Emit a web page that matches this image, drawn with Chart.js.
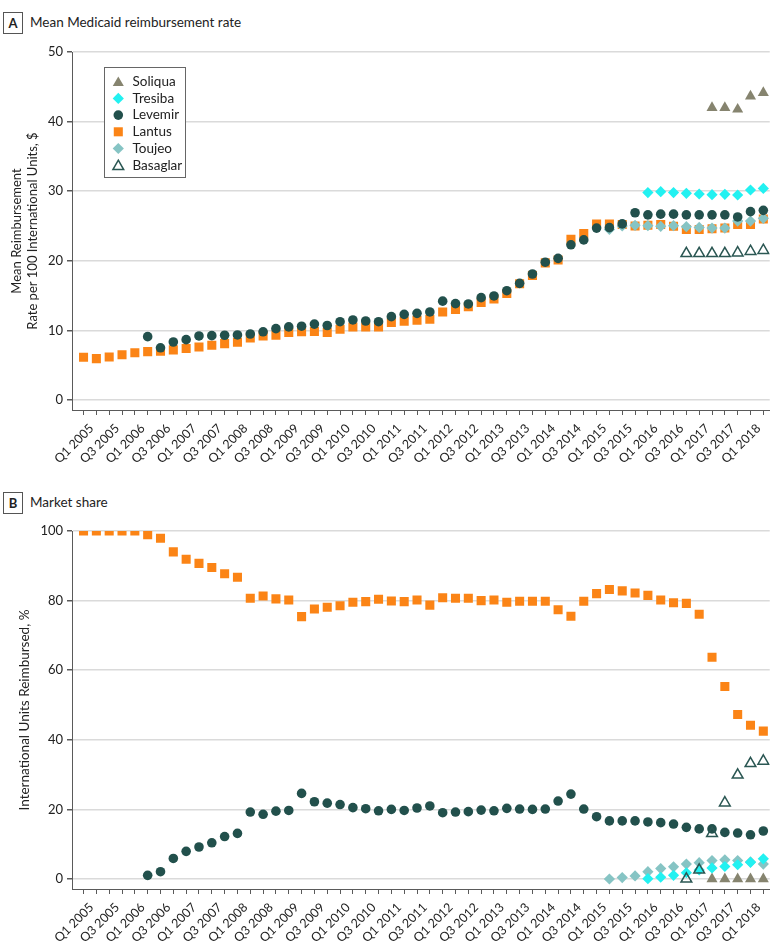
<!DOCTYPE html>
<html>
<head>
<meta charset="utf-8">
<script src="https://cdn.jsdelivr.net/npm/chart.js@4.4.1/dist/chart.umd.min.js"></script>
<style>
  html, body { margin: 0; padding: 0; background: #fff; }
  body { width: 780px; height: 951px; position: relative; overflow: hidden; font-family: Lato, "Open Sans", sans-serif; color: #222; }
  canvas { position: absolute; left: 0; }
  .plabel { position: absolute; left: 3px; width: 18px; height: 20px; border: 1px solid #555; box-sizing: content-box;
            font: bold 13px Lato, sans-serif; text-align: center; line-height: 20px; color: #222; background: #fff; }
  .ptitle { position: absolute; left: 30px; font: 13.5px Lato, sans-serif; color: #222; line-height: 22px; }
</style>
</head>
<body>
<div class="plabel" style="top:12px;">A</div>
<div class="ptitle" style="top:11px;">Mean Medicaid reimbursement rate</div>
<div class="plabel" style="top:492px;">B</div>
<div class="ptitle" style="top:491px;">Market share</div>
<canvas id="chartA" width="780" height="472" style="top:0px;"></canvas>
<canvas id="chartB" width="780" height="481" style="top:470px;"></canvas>
<script>
// ---------- categories ----------
const quarters = [
  "Q1 2005","Q2 2005","Q3 2005","Q4 2005",
  "Q1 2006","Q2 2006","Q3 2006","Q4 2006",
  "Q1 2007","Q2 2007","Q3 2007","Q4 2007",
  "Q1 2008","Q2 2008","Q3 2008","Q4 2008",
  "Q1 2009","Q2 2009","Q3 2009","Q4 2009",
  "Q1 2010","Q2 2010","Q3 2010","Q4 2010",
  "Q1 2011","Q2 2011","Q3 2011","Q4 2011",
  "Q1 2012","Q2 2012","Q3 2012","Q4 2012",
  "Q1 2013","Q2 2013","Q3 2013","Q4 2013",
  "Q1 2014","Q2 2014","Q3 2014","Q4 2014",
  "Q1 2015","Q2 2015","Q3 2015","Q4 2015",
  "Q1 2016","Q2 2016","Q3 2016","Q4 2016",
  "Q1 2017","Q2 2017","Q3 2017","Q4 2017",
  "Q1 2018","Q2 2018"
];
// x-axis tick labels shown (every other quarter)
const xTickLabels = [
  "Q1 2005","Q3 2005","Q1 2006","Q3 2006","Q1 2007","Q3 2007","Q1 2008","Q3 2008",
  "Q1 2009","Q3 2009","Q1 2010","Q3 2010","Q1 2011","Q3 2011","Q1 2012","Q3 2012",
  "Q1 2013","Q3 2013","Q1 2014","Q3 2014","Q1 2015","Q3 2015","Q1 2016","Q3 2016",
  "Q1 2017","Q3 2017","Q1 2018"
];
const rateTicks  = [0, 10, 20, 30, 40, 50];
const shareTicks = [0, 20, 40, 60, 80, 100];

const seriesNames = ["Soliqua", "Tresiba", "Levemir", "Lantus", "Toujeo", "Basaglar"];

// ---------- Panel A: mean reimbursement rate ($ per 100 IU) ----------
const rateLantus = [
  6.13, 5.94, 6.18, 6.5, 6.8, 6.95, 7.0, 7.2, 7.4, 7.6, 7.85, 8.1, 8.3, 8.9,
  9.2, 9.3, 9.7, 9.8, 9.85, 9.7, 10.15, 10.5, 10.5, 10.5, 11.15, 11.3, 11.45, 11.6,
  12.65, 13.0, 13.4, 14.0, 14.5, 15.3, 16.7, 17.9, 19.7, 20.1, 23.1, 23.9, 25.3, 25.3,
  25.2, 25.0, 25.1, 25.2, 24.95, 24.5, 24.5, 24.6, 24.7, 25.2, 25.2, 26.0
];
const rateLevemir = [
  null, null, null, null, null, 9.1, 7.5, 8.33, 8.67, 9.2, 9.24, 9.3, 9.34, 9.48,
  9.8, 10.25, 10.5, 10.6, 10.9, 10.7, 11.25, 11.5, 11.35, 11.25, 11.97, 12.3, 12.45, 12.65,
  14.2, 13.85, 13.8, 14.7, 14.95, 15.7, 16.76, 18.1, 19.8, 20.35, 22.3, 23.0, 24.7, 24.76,
  25.3, 26.9, 26.6, 26.7, 26.7, 26.6, 26.6, 26.6, 26.6, 26.3, 27.06, 27.25
];
const rateTresiba  = Array(44).fill(null).concat([29.8, 29.93, 29.8, 29.7, 29.6, 29.5, 29.55, 29.45, 30.17, 30.4]);
const rateToujeo   = Array(41).fill(null).concat([24.5, 25.0, 25.1, 25.05, 24.95, 25.05, 24.9, 24.8, 24.7, 24.7, 25.7, 25.7, 26.1]);
const rateBasaglar = Array(47).fill(null).concat([21.05, 21.05, 21.05, 21.05, 21.15, 21.35, 21.5]);
const rateSoliqua  = Array(49).fill(null).concat([42.0, 42.0, 41.75, 43.65, 44.15]);

// ---------- Panel B: market share (% of IU reimbursed) ----------
const shareLantus = [
  100, 100, 100, 100, 100, 98.9, 97.9, 94.0, 91.9, 90.7, 89.5, 87.7, 86.7, 80.65,
  81.3, 80.5, 80.2, 75.4, 77.6, 78.1, 78.5, 79.5, 79.7, 80.4, 79.9, 79.7, 80.2, 78.7,
  80.8, 80.65, 80.65, 80.0, 80.2, 79.5, 79.8, 79.8, 79.8, 77.4, 75.5, 79.8, 82.0, 83.2,
  82.8, 82.2, 81.5, 80.2, 79.4, 79.2, 76.05, 63.7, 55.3, 47.3, 44.2, 42.5
];
const shareLevemir = [
  null, null, null, null, null, 1.05, 2.1, 5.9, 7.95, 9.2, 10.4, 12.2, 13.1, 19.25,
  18.6, 19.5, 19.7, 24.6, 22.2, 21.8, 21.4, 20.5, 20.2, 19.6, 20.0, 19.7, 20.4, 21.0,
  19.06, 19.25, 19.35, 19.8, 19.6, 20.3, 20.1, 20.0, 20.1, 22.4, 24.4, 20.1, 17.9, 16.7,
  16.7, 16.7, 16.4, 16.2, 15.8, 14.85, 14.4, 14.4, 13.4, 13.2, 12.7, 13.8
];
const shareToujeo   = Array(41).fill(null).concat([0, 0.4, 0.9, 2.1, 3.0, 3.5, 4.3, 4.7, 5.3, 5.5, 5.3, 4.9, 4.3]);
const shareTresiba  = Array(44).fill(null).concat([0.1, 0.5, 1.05, 1.8, 2.6, 3.2, 3.6, 4.1, 4.8, 5.8]);
const shareBasaglar = Array(47).fill(null).concat([0, 2.6, 13.1, 21.9, 29.9, 33.2, 33.9]);
const shareSoliqua  = Array(49).fill(null).concat([0, 0, 0, 0, 0]);

// ---------- styling ----------
const styles = {
  Soliqua:  { pointStyle: 'triangle', radius: 6.4, bg: '#86846f', border: '#86846f', bw: 0, order: 5 },
  Tresiba:  { pointStyle: 'rectRot',  radius: 5.6, bg: '#22f1f1', border: '#22f1f1', bw: 0, order: 2 },
  Levemir:  { pointStyle: 'circle',   radius: 4.8, bg: '#22504c', border: '#22504c', bw: 0, order: 1 },
  Lantus:   { pointStyle: 'rect',     radius: 6.4, bg: '#fb8416', border: '#fb8416', bw: 0, order: 4 },
  Toujeo:   { pointStyle: 'rectRot',  radius: 5.6, bg: '#86c4c4', border: '#86c4c4', bw: 0, order: 3 },
  Basaglar: { pointStyle: 'triangle', radius: 6.2, bg: 'rgba(255,255,255,0)', border: '#2b5753', bw: 1.5, order: 0 }
};

function toPoints(arr) {
  const out = [];
  arr.forEach((v, i) => { if (v !== null) out.push({ x: i, y: v }); });
  return out;
}
function makeDataset(name, arr) {
  const s = styles[name];
  return {
    label: name,
    data: toPoints(arr),
    showLine: false,
    pointStyle: s.pointStyle,
    pointRadius: s.radius,
    pointHoverRadius: s.radius,
    pointBackgroundColor: s.bg,
    pointBorderColor: s.border,
    pointBorderWidth: s.bw,
    backgroundColor: s.bg,
    borderColor: s.border,
    order: s.order
  };
}

Chart.defaults.font.family = 'Lato, "Open Sans", sans-serif';
Chart.defaults.color = '#222';

const AXIS = '#5a5a5a';
const GRID = '#dadada';

function xScale(h) {
  return {
    type: 'linear',
    min: -0.9,
    max: 53.5,
    afterBuildTicks: (scale) => { scale.ticks = quarters.map((q, i) => ({ value: i })); },
    afterFit: (scale) => { scale.height = h; },
    ticks: {
      autoSkip: false,
      maxRotation: 45,
      minRotation: 45,
      padding: 6,
      labelOffset: 8,
      font: { size: 12.5 },
      color: '#222',
      callback: (value) => {
        const q = quarters[value];
        return (q && xTickLabels.includes(q)) ? q : '';
      }
    },
    grid: { display: true, drawOnChartArea: false, drawTicks: true, tickLength: 5, tickColor: AXIS, color: AXIS, lineWidth: 1 },
    border: { display: true, color: AXIS, width: 1 }
  };
}
function yScale(min, max, tickVals, titleText, titlePad, titleSize) {
  return {
    type: 'linear',
    min: min,
    max: max,
    afterBuildTicks: (scale) => { scale.ticks = tickVals.map(v => ({ value: v })); },
    afterFit: (scale) => { scale.width = 72; },
    ticks: { font: { size: 13 }, color: '#222', padding: 4 },
    grid: { color: GRID, lineWidth: 1.5, drawTicks: true, tickLength: 5, tickColor: AXIS },
    border: { display: true, color: AXIS, width: 1 },
    title: { display: true, text: titleText, font: { size: titleSize }, color: '#222', padding: { top: titlePad, bottom: 0 } }
  };
}

const legendPlugin = {
  id: 'boxLegend',
  afterDraw(chart) {
    const ctx = chart.ctx;
    ctx.save();
    ctx.fillStyle = '#fff';
    ctx.strokeStyle = '#666';
    ctx.lineWidth = 1;
    ctx.fillRect(104.5, 67.5, 81, 110);
    ctx.strokeRect(104.5, 67.5, 81, 110);
    const ys = [81.7, 98.4, 115.1, 131.8, 148.5, 165.2];
    seriesNames.forEach((name, k) => {
      const s = styles[name];
      ctx.fillStyle = s.bg;
      ctx.strokeStyle = s.border;
      ctx.lineWidth = s.bw;
      Chart.helpers.drawPoint(ctx, { pointStyle: s.pointStyle, rotation: 0, radius: s.radius, borderWidth: s.bw }, 118.3, ys[k] + (s.pointStyle === 'triangle' ? 1.2 : 0));
      ctx.fillStyle = '#222';
      ctx.font = '13.5px Lato, "Open Sans", sans-serif';
      ctx.textBaseline = 'middle';
      ctx.textAlign = 'left';
      ctx.fillText(name, 132.5, ys[k]);
    });
    ctx.restore();
  }
};

const commonOpts = {
  responsive: false,
  animation: false,
  devicePixelRatio: 1,
  plugins: { legend: { display: false }, tooltip: { enabled: false } },
  events: []
};

new Chart(document.getElementById('chartA'), {
  type: 'scatter',
  data: {
    datasets: [
      makeDataset('Soliqua', rateSoliqua),
      makeDataset('Tresiba', rateTresiba),
      makeDataset('Levemir', rateLevemir),
      makeDataset('Lantus', rateLantus),
      makeDataset('Toujeo', rateToujeo),
      makeDataset('Basaglar', rateBasaglar)
    ]
  },
  options: Object.assign({}, commonOpts, {
    layout: { padding: { top: 52, right: 7, bottom: 0, left: 0 } },
    scales: {
      x: xScale(62),
      y: yScale(-1.44, 50, rateTicks, ['Mean Reimbursement', 'Rate per 100 International Units, $'], 9, 13)
    }
  }),
  plugins: [legendPlugin]
});

new Chart(document.getElementById('chartB'), {
  type: 'scatter',
  data: {
    datasets: [
      makeDataset('Soliqua', shareSoliqua),
      makeDataset('Tresiba', shareTresiba),
      makeDataset('Levemir', shareLevemir),
      makeDataset('Lantus', shareLantus),
      makeDataset('Toujeo', shareToujeo),
      makeDataset('Basaglar', shareBasaglar)
    ]
  },
  options: Object.assign({}, commonOpts, {
    layout: { padding: { top: 61, right: 7, bottom: 0, left: 0 } },
    scales: {
      x: xScale(62),
      y: yScale(-2.87, 100, shareTicks, 'International Units Reimbursed, %', 17, 13.5)
    }
  })
});
</script>
</body>
</html>
